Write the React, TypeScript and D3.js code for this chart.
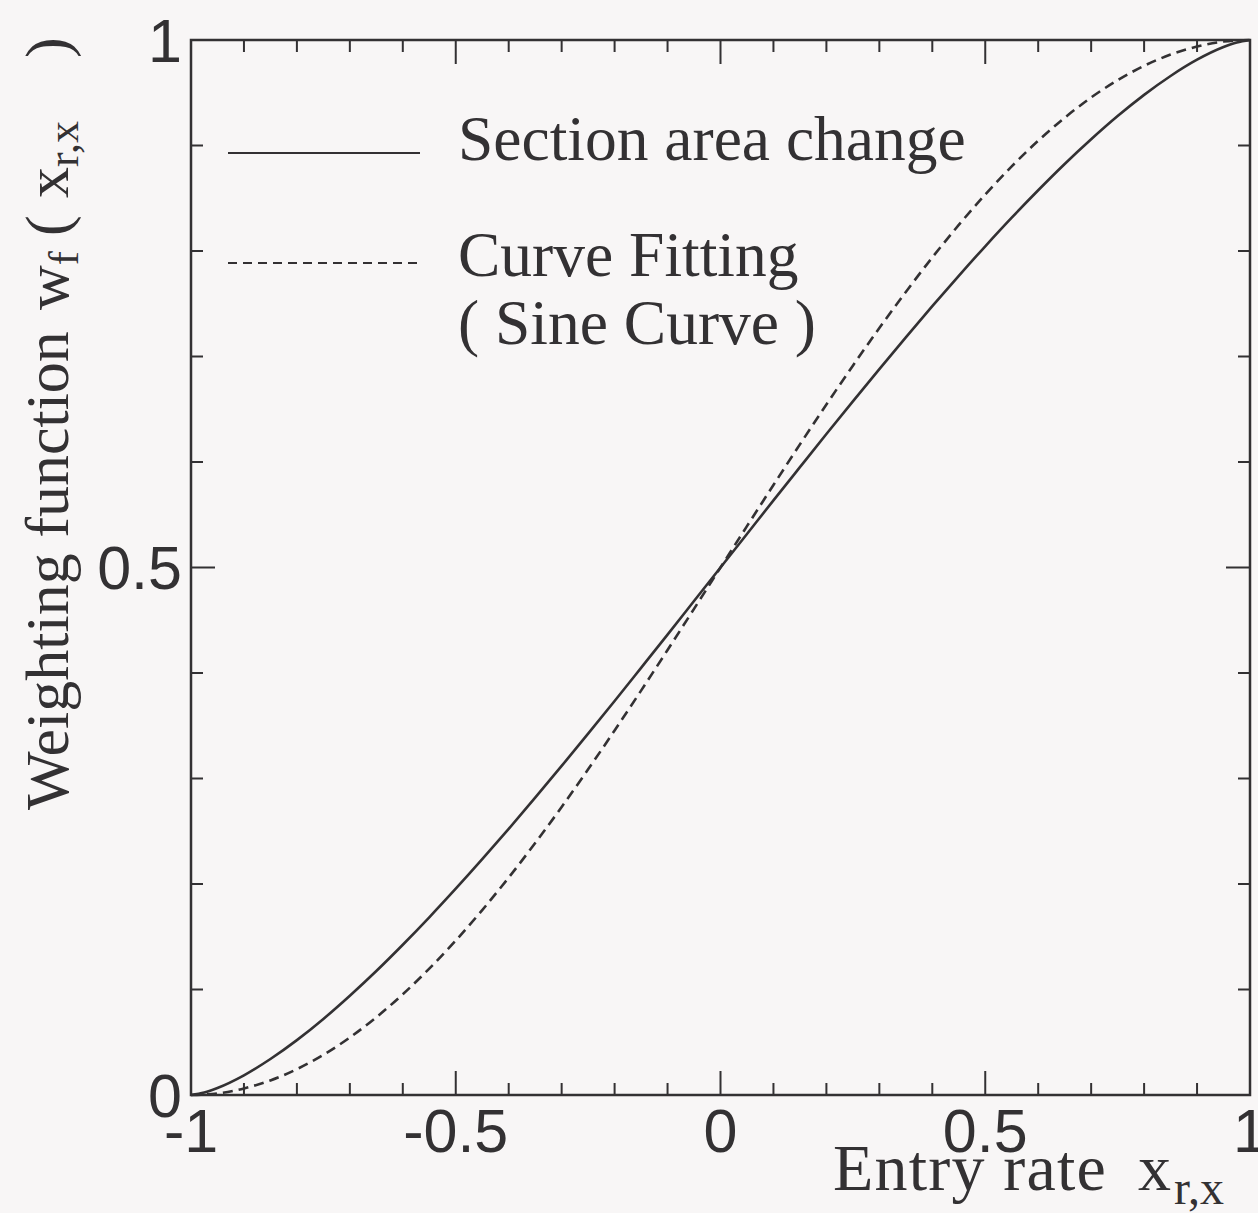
import React from "react";
import * as d3 from "d3";

// Entry rate samples along the x axis
const entryRate = [
  -1, -0.975, -0.95, -0.9, -0.85, -0.8, -0.75, -0.7, -0.65, -0.6, -0.55, -0.5,
  -0.45, -0.4, -0.35, -0.3, -0.25, -0.2, -0.15, -0.1, -0.05, 0,
  0.05, 0.1, 0.15, 0.2, 0.25, 0.3, 0.35, 0.4, 0.45, 0.5,
  0.55, 0.6, 0.65, 0.7, 0.75, 0.8, 0.85, 0.9, 0.95, 0.975, 1,
];

// Weighting function from the section area change
const sectionArea = [
  0, 0.0024, 0.0067, 0.0187, 0.0341, 0.052, 0.0721, 0.0941, 0.1175, 0.1424, 0.1684, 0.1955,
  0.2235, 0.2523, 0.2818, 0.3119, 0.3425, 0.3735, 0.4049, 0.4364, 0.4682, 0.5,
  0.5318, 0.5636, 0.5951, 0.6265, 0.6575, 0.6881, 0.7182, 0.7477, 0.7765, 0.8045,
  0.8316, 0.8576, 0.8825, 0.9059, 0.9279, 0.948, 0.9659, 0.9813, 0.9933, 0.9976, 1,
];

// Curve fitting with a sine curve
const sineFit = [
  0, 0.0004, 0.0015, 0.0062, 0.0138, 0.0245, 0.0381, 0.0545, 0.0737, 0.0955, 0.1198, 0.1464,
  0.1753, 0.2061, 0.2388, 0.273, 0.3087, 0.3455, 0.3833, 0.4218, 0.4608, 0.5,
  0.5392, 0.5782, 0.6167, 0.6545, 0.6913, 0.727, 0.7612, 0.7939, 0.8247, 0.8536,
  0.8802, 0.9045, 0.9263, 0.9455, 0.9619, 0.9755, 0.9862, 0.9938, 0.9985, 0.9996, 1,
];

const xTickLabels = ["-1", "-0.5", "0", "0.5", "1"];
const yTickLabels = ["0", "0.5", "1"];

const W = 1258;
const H = 1213;
const INK = "#333133";
const SANS = "'Liberation Sans', Arial, sans-serif";
const SERIF = "'Liberation Serif', 'Times New Roman', serif";

export default function App() {
  const x = d3.scaleLinear().domain([-1, 1]).range([191, 1250]);
  const y = d3.scaleLinear().domain([0, 1]).range([1095, 40]);
  const [x0, x1] = x.range();
  const [y0, y1] = y.range();

  const line = d3
    .line<number>()
    .x((_, i) => x(entryRate[i]))
    .y((d) => y(d))
    .curve(d3.curveMonotoneX);

  const minor = d3.range(-10, 11).map((k) => k / 10);
  const yMinor = d3.range(0, 11).map((k) => k / 10);
  const isMajor = (v: number) => Math.abs(Math.round(v * 2) - v * 2) < 1e-6;
  const tick = (v: number) => (isMajor(v) ? 24 : 12);

  return (
    <svg
      width={W}
      height={H}
      style={{ position: "absolute", left: 0, top: 0, background: "#f8f6f6" }}
    >
      <rect x={0} y={0} width={W} height={H} fill="#f8f6f6" />

      {/* ticks on all four sides, pointing inward */}
      <g stroke={INK} strokeWidth={2}>
        {minor.map((v) => (
          <g key={"x" + v}>
            <line x1={x(v)} x2={x(v)} y1={y0} y2={y0 - tick(v)} />
            <line x1={x(v)} x2={x(v)} y1={y1} y2={y1 + tick(v)} />
          </g>
        ))}
        {yMinor.map((v) => (
          <g key={"y" + v}>
            <line x1={x0} x2={x0 + tick(v)} y1={y(v)} y2={y(v)} />
            <line x1={x1} x2={x1 - tick(v)} y1={y(v)} y2={y(v)} />
          </g>
        ))}
      </g>

      {/* frame */}
      <rect
        x={x0}
        y={y1}
        width={x1 - x0}
        height={y0 - y1}
        fill="none"
        stroke={INK}
        strokeWidth={2.5}
      />

      {/* curves */}
      <path d={line(sectionArea) ?? ""} fill="none" stroke={INK} strokeWidth={2.6} />
      <path
        d={line(sineFit) ?? ""}
        fill="none"
        stroke={INK}
        strokeWidth={2.6}
        strokeDasharray="10,6"
      />

      {/* tick labels */}
      <g fontFamily={SANS} fontSize={61} fill={INK}>
        {xTickLabels.map((t) => (
          <text key={"xl" + t} x={x(+t)} y={1152} textAnchor="middle">
            {t}
          </text>
        ))}
        {yTickLabels.map((t) => (
          <text key={"yl" + t} x={182} y={y(+t)} dy="0.36em" textAnchor="end">
            {t}
          </text>
        ))}
      </g>

      {/* legend */}
      <g fill={INK} fontFamily={SERIF} fontSize={63.5}>
        <line x1={228} x2={420} y1={153} y2={153} stroke={INK} strokeWidth={2.2} />
        <text x={458} y={160}>Section area change</text>
        <line
          x1={228}
          x2={420}
          y1={263}
          y2={263}
          stroke={INK}
          strokeWidth={1.8}
          strokeDasharray="9,6"
        />
        <text x={458} y={276}>Curve Fitting</text>
        <text x={458} y={344}>( Sine Curve )</text>
      </g>

      {/* x axis title */}
      <text x={833} y={1190} fontFamily={SERIF} fontSize={66} fill={INK}>
        <tspan letterSpacing={1.2}>Entry rate</tspan>
        <tspan x={1138}>x</tspan>
        <tspan fontSize={48} dx={3} dy={14}>r,x</tspan>
      </text>

      {/* y axis title, reading upward; tspan x values are distances up from the top edge, negated */}
      <text
        transform="translate(68,0) rotate(-90)"
        fontFamily={SERIF}
        fontSize={62}
        fill={INK}
      >
        <tspan x={-810}>Weighting function</tspan>
        <tspan x={-310}>w</tspan>
        <tspan fontSize={42} dy={10}>f</tspan>
        <tspan x={-236} dy={-10}>(</tspan>
        <tspan x={-198}>x</tspan>
        <tspan fontSize={44} dy={10}>r,x</tspan>
        <tspan x={-58} dy={-10}>)</tspan>
      </text>
    </svg>
  );
}
